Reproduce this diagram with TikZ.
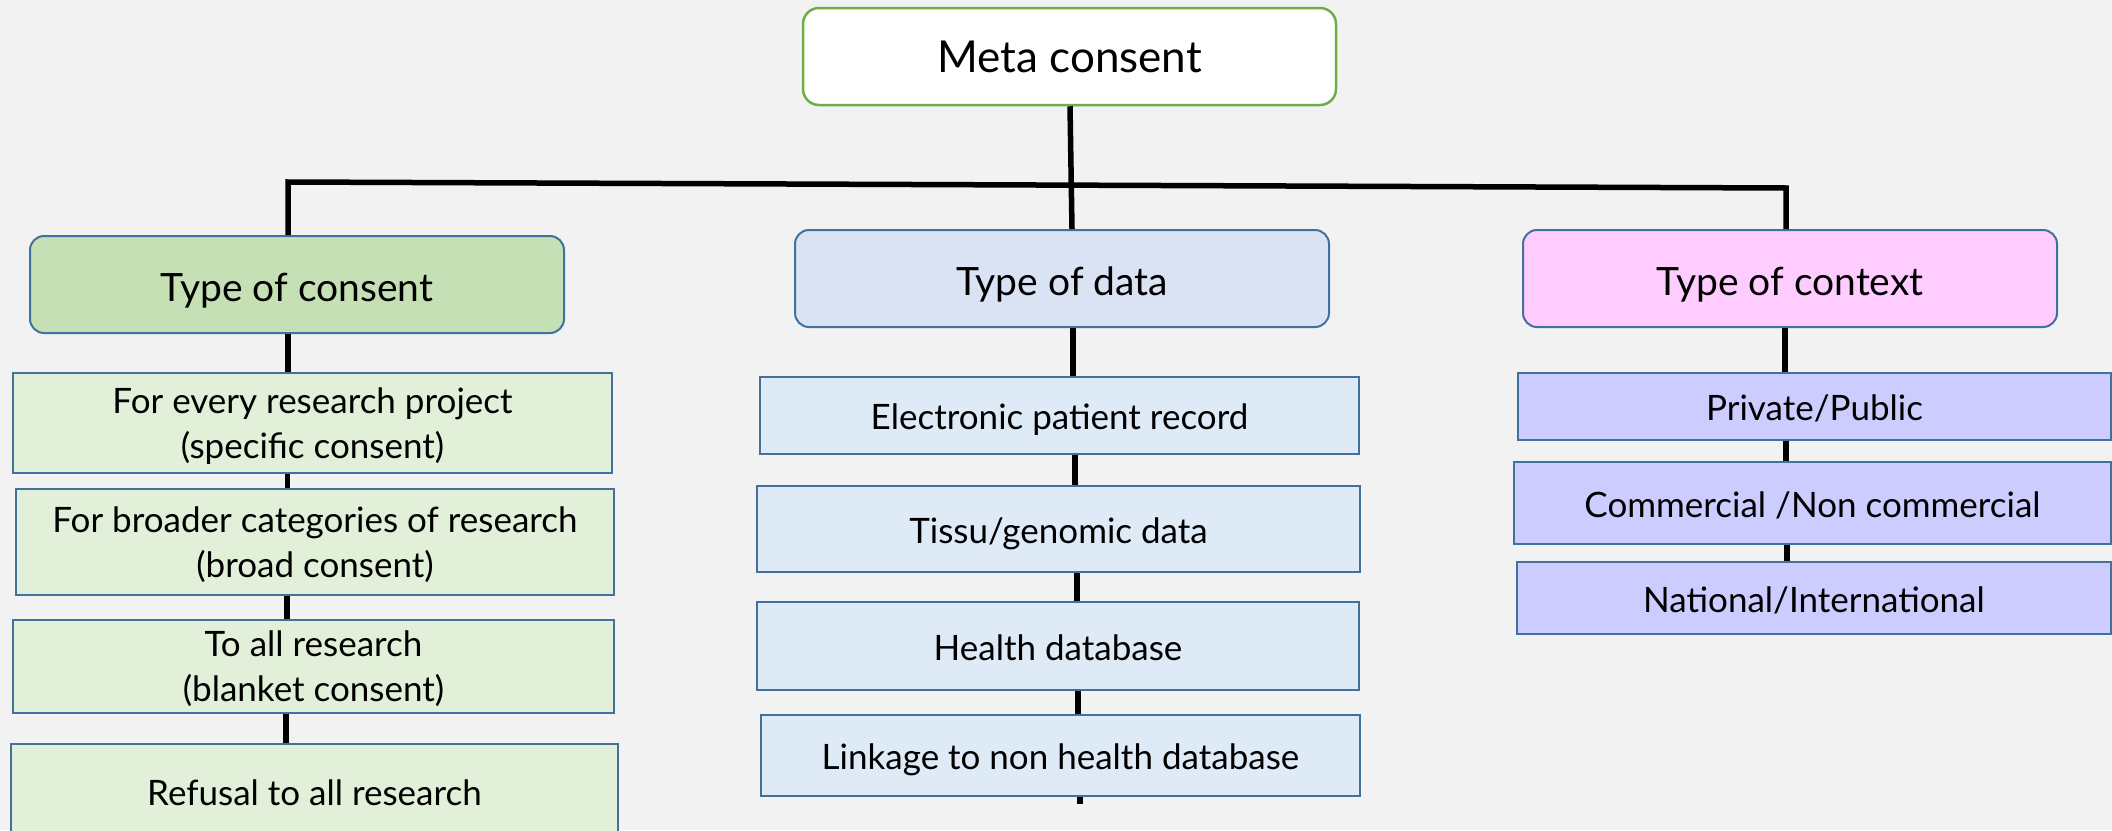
\documentclass[tikz,border=0pt]{standalone}
\usepackage{fontspec}
\setmainfont{Lato}
\definecolor{pagebg}{HTML}{F2F2F2}
\definecolor{metaedge}{HTML}{70AD47}
\definecolor{boxedge}{HTML}{41719C}
\definecolor{consHead}{HTML}{C5E0B4}
\definecolor{consItem}{HTML}{E2F0D9}
\definecolor{dataHead}{HTML}{DAE3F3}
\definecolor{dataItem}{HTML}{DEEBF7}
\definecolor{ctxHead}{HTML}{FFCCFF}
\definecolor{ctxItem}{HTML}{CCCCFF}
\begin{document}
\begin{tikzpicture}[x=1pt,y=-1pt,
  itembox/.style={draw=boxedge, line width=2pt, inner sep=0pt, align=center,
    font=\fontsize{35}{45}\selectfont},
  oneline/.style={itembox, text height=30pt, text depth=2pt},
  twoline/.style={itembox, text depth=0pt},
  headbox/.style={itembox, rounded corners=14pt, font=\fontsize{39}{46}\selectfont,
    minimum width=534pt, minimum height=97pt, text height=36pt, text depth=2pt},
  conn/.style={line width=5.5pt, black, line join=miter}]
\fill[pagebg] (0,0) rectangle (2112,830);
\useasboundingbox (0,0) rectangle (2112,830);

% root
\node[itembox, draw=metaedge, line width=2.5pt, fill=white, rounded corners=16pt,
  minimum width=533pt, minimum height=97pt, font=\fontsize{44}{50}\selectfont]
  (meta) at (1069.5,56.5) {Meta consent};

% category heads
\node[headbox, fill=consHead] (cons) at (297,284.5) {Type of consent};
\node[headbox, fill=dataHead] (data) at (1062,278.5) {Type of data};
\node[headbox, fill=ctxHead]  (ctx)  at (1790,278.5) {Type of context};

% consent items
\node[twoline, fill=consItem, minimum width=599pt, minimum height=100pt] (c1) at (312.5,423)
  {For every research project\\(specific consent)};
\node[twoline, fill=consItem, minimum width=598pt, minimum height=106pt] (c2) at (315,542)
  {For broader categories of research\\(broad consent)};
\node[twoline, fill=consItem, minimum width=601pt, minimum height=93pt] (c3) at (313.5,666.5)
  {To all research\\(blanket consent)};
\node[oneline, fill=consItem, minimum width=607pt, minimum height=94pt] (c4) at (314.5,791)
  {Refusal to all research};

% data items
\node[oneline, fill=dataItem, minimum width=599pt, minimum height=77pt] (d1) at (1059.5,415.5)
  {Electronic patient record};
\node[oneline, fill=dataItem, minimum width=603pt, minimum height=86pt] (d2) at (1058.5,529)
  {Tissu/genomic data};
\node[oneline, fill=dataItem, minimum width=602pt, minimum height=88pt] (d3) at (1058,646)
  {Health database};
\node[oneline, fill=dataItem, minimum width=599pt, minimum height=81pt] (d4) at (1060.5,755.5)
  {Linkage to non health database};

% context items
\node[oneline, fill=ctxItem, minimum width=593pt, minimum height=67pt] (k1) at (1814.5,406.5)
  {Private/Public};
\node[oneline, fill=ctxItem, minimum width=597pt, minimum height=82pt] (k2) at (1812.5,503)
  {Commercial /Non commercial};
\node[oneline, fill=ctxItem, minimum width=594pt, minimum height=72pt] (k3) at (1814,598)
  {National/International};

% connectors
\coordinate (barL) at (288,182);
\coordinate (barR) at (1786,188);
\coordinate (dend) at (1080,804);

\draw[conn] (meta.south -| 1070,0) -- (data.north -| 1072,0);
\draw[conn] (cons.north -| 288,0) -- (barL) -- (barR) -- (ctx.north -| 1786,0);

\draw[conn] (cons.south -| 288,0) -- (c1.north -| 288,0);
\draw[conn] (c1.south -| 287.5,0) -- (c2.north -| 287.5,0);
\draw[conn] (c2.south -| 287,0) -- (c3.north -| 287,0);
\draw[conn] (c3.south -| 286,0) -- (c4.north -| 286,0);

\draw[conn] (data.south -| 1073,0) -- (d1.north -| 1073,0);
\draw[conn] (d1.south -| 1075,0) -- (d2.north -| 1075,0);
\draw[conn] (d2.south -| 1077,0) -- (d3.north -| 1077,0);
\draw[conn] (d3.south -| 1078,0) -- (d4.north -| 1078,0);
\draw[conn] (d4.south -| 1080,0) -- (dend);

\draw[conn] (ctx.south -| 1785,0) -- (k1.north -| 1785,0);
\draw[conn] (k1.south -| 1786,0) -- (k2.north -| 1786,0);
\draw[conn] (k2.south -| 1787,0) -- (k3.north -| 1787,0);
\end{tikzpicture}
\end{document}
